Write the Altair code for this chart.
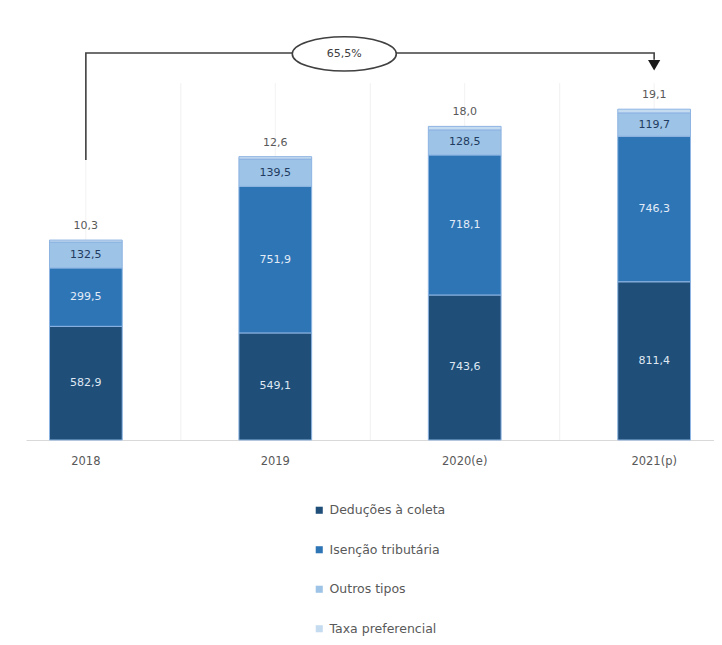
import altair as alt
import pandas as pd

years = ["2018", "2019", "2020(e)", "2021(p)"]
series = ["Deduções à coleta", "Isenção tributária", "Outros tipos", "Taxa preferencial"]
deducoes = [582.9, 549.1, 743.6, 811.4]
isencao = [299.5, 751.9, 718.1, 746.3]
outros = [132.5, 139.5, 128.5, 119.7]
taxa = [10.3, 12.6, 18.0, 19.1]
colors = ["#1f4e79", "#2e75b6", "#9dc3e6", "#c5dbf0"]
label_colors = ["#dfe8f2", "#e3ecf6", "#1f3b60", "#595959"]
growth_label = "65,5%"

rows = []
for i, y in enumerate(years):
    acc = 0.0
    for j, (s, vals) in enumerate(zip(series, [deducoes, isencao, outros, taxa])):
        v = vals[i]
        rows.append({"ano": y, "serie": s, "valor": v, "ordem": j,
                     "y0": acc, "y1": acc + v, "mid": acc + v / 2,
                     "tcolor": label_colors[j],
                     "rotulo": f"{v:.1f}".replace(".", ",")})
        acc += v
df = pd.DataFrame(rows)

font = "DejaVu Sans"
xenc = alt.X("ano:N", sort=years, title=None,
             scale=alt.Scale(paddingInner=0.616, paddingOuter=0.124),
             axis=alt.Axis(labelAngle=0, ticks=False, domainColor="#d9d9d9",
                           labelColor="#595959", labelFontSize=11.5, labelFont=font,
                           labelPadding=15, grid=False))
xs = alt.X("ano:N", sort=years)
yscale = alt.Scale(domain=[0, 2200], nice=False)

# faint vertical grid lines
grid_df = pd.DataFrame({"ano": years, "top": [1830] * 4, "bottom": [0] * 4})
grid_center = alt.Chart(grid_df).mark_rule(color="#f2f2f2", strokeWidth=1).encode(
    x=xenc, y=alt.Y("top:Q", scale=yscale, axis=None), y2="bottom:Q")
grid_gap = alt.Chart(grid_df.iloc[:3]).mark_rule(
    color="#f0f0f0", strokeWidth=1, xOffset=95).encode(
    x=xs, y=alt.Y("top:Q", scale=yscale), y2="bottom:Q")

bars = alt.Chart(df).mark_bar(stroke="#8db4e2", strokeWidth=1).encode(
    x=xs,
    y=alt.Y("y0:Q", scale=yscale),
    y2="y1:Q",
    color=alt.Color("serie:N", sort=series,
                    scale=alt.Scale(domain=series, range=colors),
                    legend=alt.Legend(title=None, orient="none", legendX=287, legendY=493,
                                      direction="vertical", symbolType="square",
                                      symbolSize=50, symbolStrokeWidth=0,
                                      labelFontSize=12.5, labelFont=font,
                                      labelColor="#595959", rowPadding=26.5)),
)

inner = alt.Chart(df[df["ordem"] < 3]).mark_text(font=font, fontSize=11).encode(
    x=xs,
    y=alt.Y("mid:Q", scale=yscale),
    text="rotulo:N",
    color=alt.Color("tcolor:N", scale=None),
)

top = alt.Chart(df[df["ordem"] == 3]).mark_text(
    font=font, fontSize=11, baseline="bottom", dy=-9, color="#595959").encode(
    x=xs,
    y=alt.Y("y1:Q", scale=yscale),
    text="rotulo:N",
)

# bracket annotation
br_df = pd.DataFrame({"ano": ["2018", "2018", "2021(p)", "2021(p)"],
                      "v": [1436, 1985, 1985, 1950], "k": [0, 1, 2, 3]})
bracket = alt.Chart(br_df).mark_line(color="#404040", strokeWidth=1.6).encode(
    x=xs, y=alt.Y("v:Q", scale=yscale), order="k:Q")
arrow_df = pd.DataFrame({"ano": ["2021(p)"], "v": [1922]})
arrow = alt.Chart(arrow_df).mark_point(shape="triangle-down", filled=True, size=150,
                                        color="#1a1a1a", opacity=1).encode(
    x=xs, y=alt.Y("v:Q", scale=yscale))
ell_df = pd.DataFrame({"ano": ["2019"], "v": [1980], "t": [growth_label]})
ellipse = alt.Chart(ell_df).mark_point(
    shape="M -1 0 A 1 0.33 0 1 0 1 0 A 1 0.33 0 1 0 -1 0 Z",
    size=10816, filled=True, fill="white", stroke="#404040", strokeWidth=1.6,
    opacity=1, xOffset=69).encode(
    x=xs, y=alt.Y("v:Q", scale=yscale))
ell_text = alt.Chart(ell_df).mark_text(font=font, fontSize=11, color="#404040",
                                       xOffset=69).encode(
    x=xs, y=alt.Y("v:Q", scale=yscale), text="t:N")

chart = alt.layer(grid_center, grid_gap, bars, inner, top, bracket, arrow, ellipse, ell_text).properties(
    width=688, height=429,
    padding={"left": 18, "top": 3, "right": 0, "bottom": 0},
).configure_view(stroke=None).configure_legend(labelLimit=300)

chart.save("out.html", embed_options={"renderer": "svg", "actions": False})
